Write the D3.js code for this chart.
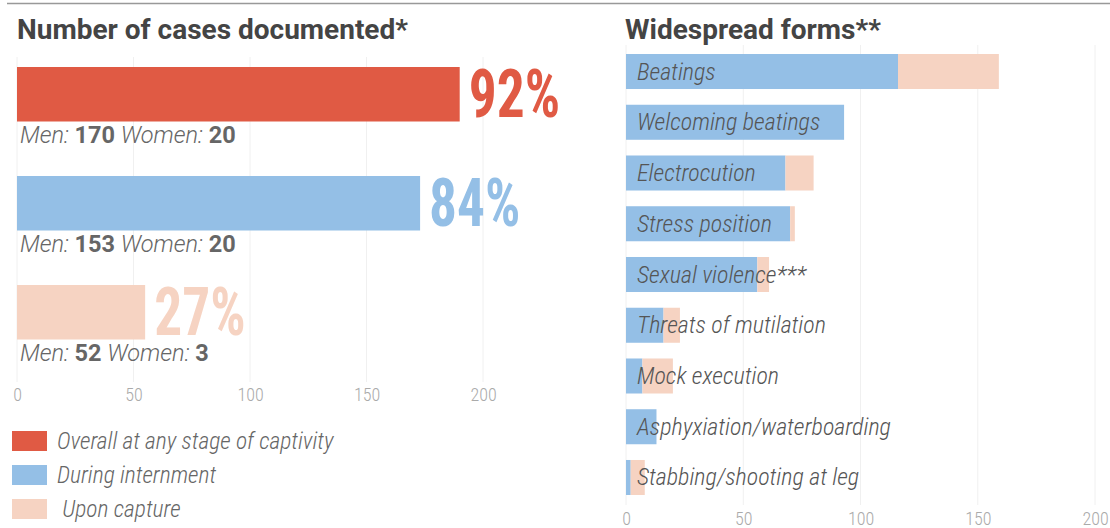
<!DOCTYPE html>
<html>
<head>
<meta charset="utf-8">
<script src="https://cdn.jsdelivr.net/npm/d3@7"></script>
<style>
  body { margin: 0; background: #fff; }
  svg { display: block; }
  .cond { font-family: Roboto, "Liberation Sans Narrow", "DejaVu Sans Condensed", sans-serif; font-stretch: 75%; }
</style>
</head>
<body>
<svg id="chart" width="1110" height="528"></svg>
<script>
// left panel: cases documented
const caseKeys = ["overall", "internment", "capture"];
const caseMen = [170, 153, 52];
const caseWomen = [20, 20, 3];
const casePct = ["92%", "84%", "27%"];
const legendLabels = ["Overall at any stage of captivity", "During internment", " Upon capture"];

// right panel: widespread forms
const forms = ["Beatings", "Welcoming beatings", "Electrocution", "Stress position", "Sexual violence***",
  "Threats of mutilation", "Mock execution", "Asphyxiation/waterboarding", "Stabbing/shooting at leg"];
const formsInternment = [116, 93, 68, 70, 56, 16, 7, 13, 2];
const formsCapture = [43, 0, 12, 2, 5, 7, 13, 0, 6];

const ticks = [0, 50, 100, 150, 200];
const colors = ["#e05a44", "#94bfe6", "#f6d3c2"];

const svg = d3.select("#chart");
const textGray = "#555";

// top rule
svg.append("line").attr("x1", 7).attr("x2", 1110).attr("y1", 3.5).attr("y2", 3.5)
  .attr("stroke", "#999").attr("stroke-width", 1.5);

/* ---------- left ---------- */
const xL = d3.scaleLinear().domain([0, 200]).range([17, 483]);
const yL = d3.scaleBand().domain(caseKeys).range([67, 339.5]).paddingInner(0.5).paddingOuter(0);

svg.append("text").attr("x", 17).attr("y", 39)
  .style("font-family", "Roboto, sans-serif").style("font-weight", 700).style("font-size", "28px")
  .attr("fill", "#444").text("Number of cases documented*");

svg.append("g").selectAll("line").data(ticks).join("line")
  .attr("x1", d => xL(d)).attr("x2", d => xL(d))
  .attr("y1", 57).attr("y2", 382)
  .attr("stroke", "#f0f0f0");

const totals = caseMen.map((m, i) => m + caseWomen[i]);

svg.append("g").selectAll("rect").data(caseKeys).join("rect")
  .attr("x", xL(0))
  .attr("y", d => yL(d))
  .attr("width", (d, i) => xL(totals[i]) - xL(0))
  .attr("height", yL.bandwidth())
  .attr("fill", (d, i) => colors[i]);

// big percentages, squeezed horizontally like the condensed face in the original
svg.append("g").selectAll("text").data(caseKeys).join("text")
  .attr("class", "cond")
  .attr("transform", (d, i) => `translate(${xL(totals[i]) + 9},${yL(d) + yL.bandwidth() - 5}) scale(0.84,1)`)
  .style("font-weight", 700).style("font-size", "66px")
  .attr("fill", (d, i) => colors[i])
  .text((d, i) => casePct[i]);

const sub = svg.append("g").selectAll("text").data(caseKeys).join("text")
  .attr("class", "cond")
  .attr("x", 20)
  .attr("y", d => yL(d) + yL.bandwidth() + 21)
  .style("font-size", "23.5px").style("font-stretch", "97%")
  .attr("fill", "#666");
sub.append("tspan").style("font-style", "italic").style("font-weight", 300).text("Men: ");
sub.append("tspan").style("font-weight", 700).text((d, i) => caseMen[i]);
sub.append("tspan").style("font-style", "italic").style("font-weight", 300).text(" Women: ");
sub.append("tspan").style("font-weight", 700).text((d, i) => caseWomen[i]);

const axL = svg.append("g").attr("transform", "translate(0,385)")
  .call(d3.axisBottom(xL).tickValues(ticks).tickSize(0).tickPadding(3));
axL.select(".domain").remove();
axL.selectAll("text").attr("class", "cond").style("font-size", "18px").style("font-weight", 300).attr("fill", "#aaa");

// legend
const leg = svg.append("g").selectAll("g").data(legendLabels).join("g")
  .attr("transform", (d, i) => `translate(12,${431 + i * 34})`);
leg.append("rect").attr("width", 35).attr("height", 20).attr("fill", (d, i) => colors[i]);
leg.append("text").attr("class", "cond").attr("x", 45).attr("y", 18)
  .style("font-size", "23.5px").style("font-style", "italic").style("font-weight", 300).style("font-stretch", "82%")
  .attr("fill", "#666").attr("xml:space", "preserve").style("white-space", "pre")
  .text(d => d);

/* ---------- right ---------- */
const xR = d3.scaleLinear().domain([0, 200]).range([626, 1095]);
const yR = d3.scaleBand().domain(forms).range([54, 495]).paddingInner(0.31).paddingOuter(0);

svg.append("text").attr("x", 625).attr("y", 39)
  .style("font-family", "Roboto, sans-serif").style("font-weight", 700).style("font-size", "28px")
  .attr("fill", "#444").text("Widespread forms**");

svg.append("g").selectAll("line").data(ticks).join("line")
  .attr("x1", d => xR(d)).attr("x2", d => xR(d))
  .attr("y1", 45).attr("y2", 505)
  .attr("stroke", "#f0f0f0");

const rows = svg.append("g").selectAll("g").data(forms).join("g");
rows.append("rect")
  .attr("x", xR(0)).attr("y", d => yR(d))
  .attr("width", (d, i) => xR(formsInternment[i]) - xR(0))
  .attr("height", yR.bandwidth())
  .attr("fill", colors[1]);
rows.append("rect")
  .attr("x", (d, i) => xR(formsInternment[i])).attr("y", d => yR(d))
  .attr("width", (d, i) => xR(formsInternment[i] + formsCapture[i]) - xR(formsInternment[i]))
  .attr("height", yR.bandwidth())
  .attr("fill", colors[2]);
rows.append("text").attr("class", "cond")
  .attr("x", 637).attr("y", d => yR(d) + yR.bandwidth() / 2 + 8)
  .style("font-size", "24px").style("font-style", "italic").style("font-weight", 300).style("font-stretch", "85%")
  .attr("fill", textGray)
  .text(d => d);

const axR = svg.append("g").attr("transform", "translate(0,505)")
  .call(d3.axisBottom(xR).tickValues(ticks).tickSize(0).tickPadding(7));
axR.select(".domain").remove();
axR.selectAll("text").attr("class", "cond").style("font-size", "18px").style("font-weight", 300).attr("fill", "#aaa");
</script>
</body>
</html>
